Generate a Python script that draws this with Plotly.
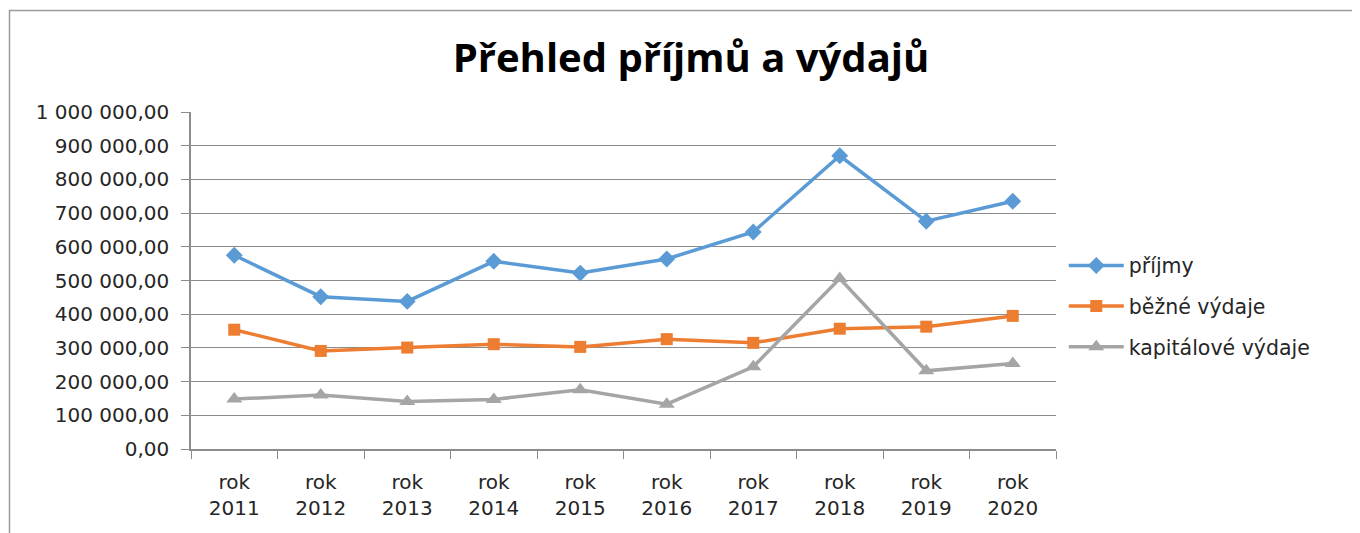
import plotly.graph_objects as go

categories = ["rok<br>2011", "rok<br>2012", "rok<br>2013", "rok<br>2014", "rok<br>2015",
              "rok<br>2016", "rok<br>2017", "rok<br>2018", "rok<br>2019", "rok<br>2020"]
prijmy = [575000, 452000, 438000, 557000, 522000, 564000, 644000, 870000, 676000, 735000]
bezne_vydaje = [354000, 291000, 301000, 311000, 303000, 326000, 315000, 357000, 363000, 395000]
kapitalove_vydaje = [148000, 160000, 141000, 147000, 176000, 133000, 244000, 506000, 232000, 254000]
y_tick_vals = [0, 100000, 200000, 300000, 400000, 500000, 600000, 700000, 800000, 900000, 1000000]
y_tick_text = ["0,00", "100 000,00", "200 000,00", "300 000,00", "400 000,00", "500 000,00",
               "600 000,00", "700 000,00", "800 000,00", "900 000,00", "1 000 000,00"]

FONT = "DejaVu Sans, Open Sans, Arial"
PW, PH = 865, 337  # plot area size in px

fig = go.Figure()
fig.add_trace(go.Scatter(x=categories, y=prijmy, name="příjmy", mode="lines+markers",
                         legendgroup="a",
                         line=dict(color="#5B9BD5", width=3.5),
                         marker=dict(symbol="diamond", size=13, color="#5B9BD5")))
fig.add_trace(go.Scatter(x=categories, y=bezne_vydaje, name="běžné výdaje", mode="lines+markers",
                         legendgroup="b",
                         line=dict(color="#ED7D31", width=3.5),
                         marker=dict(symbol="square", size=12, color="#ED7D31")))
fig.add_trace(go.Scatter(x=categories, y=kapitalove_vydaje, name="kapitálové výdaje", mode="lines+markers",
                         legendgroup="c",
                         line=dict(color="#A5A5A5", width=3.5),
                         marker=dict(symbol="triangle-up", size=14, color="#A5A5A5")))

fig.update_layout(
    width=1352, height=525,
    margin=dict(l=183, r=304, t=104, b=84),
    paper_bgcolor="white", plot_bgcolor="white",
    title=dict(text="<b>Přehled příjmů a výdajů</b>", x=(691 - 8) / 1352, xanchor="center",
               y=1 - 50 / 525, yanchor="middle",
               font=dict(family="Open Sans, Liberation Sans", size=40, color="#000000")),
    font=dict(family=FONT, size=20, color="#262626"),
    showlegend=True,
    legend=dict(x=1.009, xanchor="left", y=0.424, yanchor="middle",
                font=dict(family=FONT, size=20.5, color="#262626"),
                tracegroupgap=11, itemwidth=55),
    shapes=[dict(type="rect", xref="paper", yref="paper",
                 x0=-181.5 / PW, x1=1.0 + 320 / PW, y0=-100 / PH, y1=1 + 101.5 / PH,
                 line=dict(color="#9A9A9A", width=1.5), fillcolor="rgba(0,0,0,0)", layer="below")],
)
fig.update_xaxes(type="category", showline=True, linecolor="#8C8C8C", linewidth=1.5,
                 ticks="outside", ticklen=8, tickcolor="#8C8C8C", tickson="boundaries",
                 showgrid=False, tickfont=dict(family=FONT, size=20, color="#262626"),
                 ticklabelstandoff=14, range=[-0.5, 9.5])
fig.update_yaxes(range=[0, 1000000], tickvals=y_tick_vals, ticktext=y_tick_text,
                 showline=True, linecolor="#8C8C8C", linewidth=1.5,
                 ticks="outside", ticklen=8, tickcolor="#8C8C8C",
                 showgrid=True, gridcolor="#8C8C8C", gridwidth=1, zeroline=False,
                 ticklabelstandoff=8,
                 tickfont=dict(family=FONT, size=20, color="#262626"))

fig.write_html("out.html")
